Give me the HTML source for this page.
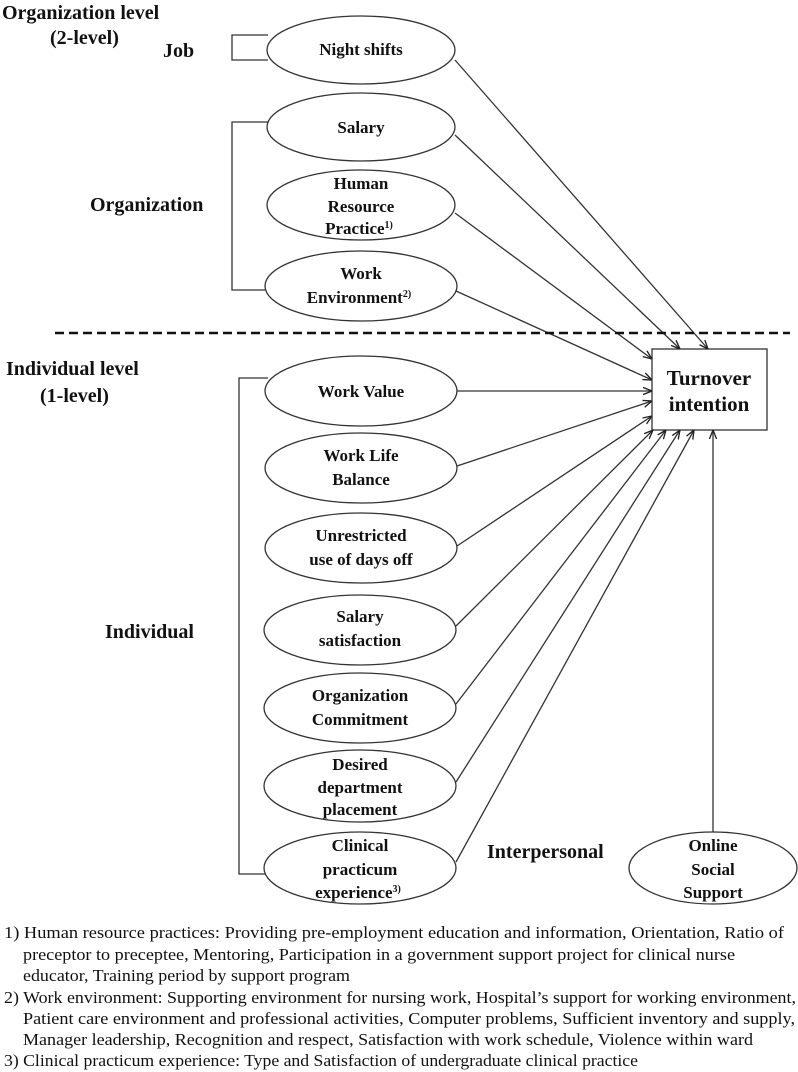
<!DOCTYPE html>
<html><head><meta charset="utf-8"><style>
html,body{margin:0;padding:0;background:#fff;}
svg{display:block}
text{font-family:"Liberation Serif",serif;fill:#111;}
.b{font-weight:bold;font-size:17px;}
.L{font-weight:bold;font-size:20px;}
.f{font-size:17px;}
</style></head><body>
<svg width="798" height="1072" viewBox="0 0 798 1072" xmlns="http://www.w3.org/2000/svg">
<defs><marker id="a" viewBox="0 0 10 10" refX="10" refY="5" markerWidth="9" markerHeight="9" markerUnits="userSpaceOnUse" orient="auto"><path d="M0,1 L10,5 L0,9" fill="none" stroke="#222" stroke-width="1.5"/></marker></defs>
<g stroke="#333" stroke-width="1.3" fill="none">
<path d="M268,35 H232 V60 H268"/>
<path d="M268,122 H232 V290 H265"/>
<path d="M268,378 H239 V874 H265"/>
<ellipse cx="361" cy="50" rx="94" ry="34" fill="#fff"/>
<ellipse cx="361" cy="127" rx="94" ry="34" fill="#fff"/>
<ellipse cx="361" cy="205" rx="94" ry="35" fill="#fff"/>
<ellipse cx="361" cy="286" rx="96" ry="35" fill="#fff"/>
<ellipse cx="361" cy="391" rx="96" ry="35" fill="#fff"/>
<ellipse cx="361" cy="468" rx="96" ry="35" fill="#fff"/>
<ellipse cx="361" cy="548" rx="96" ry="35" fill="#fff"/>
<ellipse cx="360" cy="630" rx="96" ry="35" fill="#fff"/>
<ellipse cx="360" cy="708" rx="96" ry="35" fill="#fff"/>
<ellipse cx="360" cy="786" rx="96" ry="36" fill="#fff"/>
<ellipse cx="360" cy="868" rx="96" ry="36" fill="#fff"/>
<ellipse cx="713" cy="868" rx="84" ry="36" fill="#fff"/>
<rect x="652" y="349" width="115" height="81" fill="#fff"/>
<g marker-end="url(#a)">
<line x1="455" y1="60" x2="708" y2="349"/>
<line x1="455" y1="135" x2="680" y2="349"/>
<line x1="455" y1="213" x2="652" y2="359"/>
<line x1="456" y1="291" x2="652" y2="380"/>
<line x1="457" y1="391" x2="652" y2="391"/>
<line x1="457" y1="466" x2="652" y2="401"/>
<line x1="457" y1="546" x2="652" y2="416"/>
<line x1="456" y1="626" x2="653" y2="430"/>
<line x1="456" y1="704" x2="666" y2="430"/>
<line x1="456" y1="782" x2="680" y2="430"/>
<line x1="456" y1="862" x2="694" y2="430"/>
<line x1="713" y1="832" x2="713" y2="430"/>
</g>
</g>
<line x1="55" y1="333" x2="790" y2="333" stroke="#111" stroke-width="2.5" stroke-dasharray="9,5"/>
<text class="L" x="2" y="19">Organization level</text>
<text class="L" x="50" y="44">(2-level)</text>
<text class="L" x="163" y="57">Job</text>
<text class="L" x="90" y="211">Organization</text>
<text class="L" x="6" y="375">Individual level</text>
<text class="L" x="40" y="402">(1-level)</text>
<text class="L" x="105" y="638">Individual</text>
<text class="L" x="487" y="858">Interpersonal</text>
<g class="b" text-anchor="middle">
<text x="361" y="55">Night shifts</text>
<text x="361" y="133">Salary</text>
<text x="361" y="189">Human</text>
<text x="361" y="212">Resource</text>
<text x="359" y="234">Practice<tspan font-size="10" dy="-6">1)</tspan></text>
<text x="361" y="279">Work</text>
<text x="359" y="303">Environment<tspan font-size="10" dy="-6">2)</tspan></text>
<text x="361" y="397">Work Value</text>
<text x="361" y="461">Work Life</text>
<text x="361" y="485">Balance</text>
<text x="361" y="541">Unrestricted</text>
<text x="361" y="565">use of days off</text>
<text x="360" y="622">Salary</text>
<text x="360" y="646">satisfaction</text>
<text x="360" y="701">Organization</text>
<text x="360" y="725">Commitment</text>
<text x="360" y="770">Desired</text>
<text x="360" y="793">department</text>
<text x="360" y="815">placement</text>
<text x="360" y="851">Clinical</text>
<text x="360" y="875">practicum</text>
<text x="358" y="898">experience<tspan font-size="10" dy="-6">3)</tspan></text>
<text x="713" y="851">Online</text>
<text x="713" y="875">Social</text>
<text x="713" y="898">Support</text>
<text x="709" y="385" font-size="21">Turnover</text>
<text x="709" y="411" font-size="21">intention</text>
</g>
<g class="f">
<text x="4" y="938" textLength="780" lengthAdjust="spacingAndGlyphs">1) Human resource practices: Providing pre-employment education and information, Orientation, Ratio of</text>
<text x="23" y="960" textLength="712" lengthAdjust="spacingAndGlyphs">preceptor to preceptee, Mentoring, Participation in a government support project for clinical nurse</text>
<text x="23" y="981" textLength="327" lengthAdjust="spacingAndGlyphs">educator, Training period by support program</text>
<text x="4" y="1003" textLength="792" lengthAdjust="spacingAndGlyphs">2) Work environment: Supporting environment for nursing work, Hospital’s support for working environment,</text>
<text x="23" y="1024" textLength="772" lengthAdjust="spacingAndGlyphs">Patient care environment and professional activities, Computer problems, Sufficient inventory and supply,</text>
<text x="23" y="1045" textLength="730" lengthAdjust="spacingAndGlyphs">Manager leadership, Recognition and respect, Satisfaction with work schedule, Violence within ward</text>
<text x="4" y="1066" textLength="634" lengthAdjust="spacingAndGlyphs">3) Clinical practicum experience: Type and Satisfaction of undergraduate clinical practice</text>
</g>
</svg>
</body></html>
